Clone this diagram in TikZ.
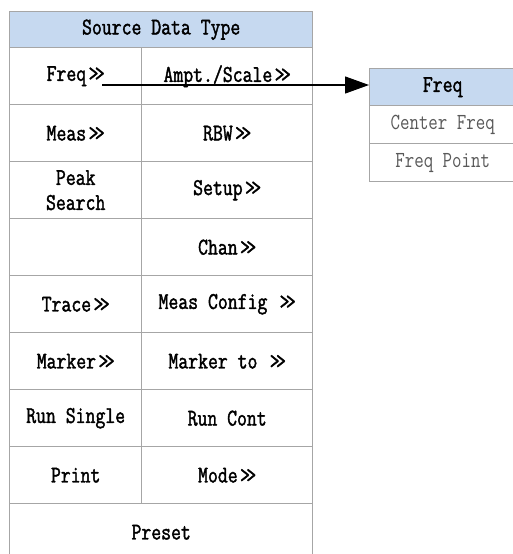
\documentclass[tikz,border=0pt]{standalone}
\usepackage{fontspec}
\newfontfamily\cellfont[FakeStretch=0.8, FakeBold=1.6]{Latin Modern Mono}
\newfontfamily\subfont[FakeStretch=0.8]{Latin Modern Mono}
\usetikzlibrary{arrows.meta}
\definecolor{hdr}{HTML}{C6D9F0}
\definecolor{grid}{HTML}{A6A6A6}
\definecolor{subtxt}{HTML}{595959}
\newcommand{\dgt}{\kern0.1em{>}\kern-0.15em{>}}
\tikzset{
  cell/.style={draw=grid, line width=1.4pt, fill=white, inner sep=0pt, anchor=north west,
    font=\cellfont\fontsize{24}{25}\selectfont, align=center},
  hcell/.style={cell, fill=hdr},
  scell/.style={cell, font=\subfont\fontsize{23}{25}\selectfont, text=subtxt},
}
\begin{document}
\begin{tikzpicture}[x=1pt,y=-1pt]
\useasboundingbox (0,0) rectangle (513,554);
\fill[white] (0,0) rectangle (513,554);
% main table
\node[hcell, minimum width=303pt, minimum height=36pt] (hd) at (9,11) {Source Data Type};
\node[cell, minimum width=132pt, minimum height=57pt] (l1) at (9,47) {Freq\dgt};
\node[cell, minimum width=171pt, minimum height=57pt] (r1) at (141,47) {Ampt./Scale\dgt};
\node[cell, minimum width=132pt, minimum height=57pt] (l2) at (9,104) {Meas\dgt};
\node[cell, minimum width=171pt, minimum height=57pt] (r2) at (141,104) {RBW\dgt};
\node[cell, minimum width=132pt, minimum height=57pt] (l3) at (9,161) {Peak\\Search};
\node[cell, minimum width=171pt, minimum height=57pt] (r3) at (141,161) {Setup\dgt};
\node[cell, minimum width=132pt, minimum height=57pt] (l4) at (9,218) {};
\node[cell, minimum width=171pt, minimum height=57pt] (r4) at (141,218) {Chan\dgt};
\node[cell, minimum width=132pt, minimum height=57pt] (l5) at (9,275) {Trace\dgt};
\node[cell, minimum width=171pt, minimum height=57pt] (r5) at (141,275) {Meas Config \dgt};
\node[cell, minimum width=132pt, minimum height=57pt] (l6) at (9,332) {Marker\dgt};
\node[cell, minimum width=171pt, minimum height=57pt] (r6) at (141,332) {Marker to \dgt};
\node[cell, minimum width=132pt, minimum height=57pt] (l7) at (9,389) {Run Single};
\node[cell, minimum width=171pt, minimum height=57pt] (r7) at (141,389) {Run Cont};
\node[cell, minimum width=132pt, minimum height=57pt] (l8) at (9,446) {Print};
\node[cell, minimum width=171pt, minimum height=57pt] (r8) at (141,446) {Mode\dgt};
\node[cell, minimum width=303pt, minimum height=57pt] (ps) at (9,503) {Preset};
% side box
\node[hcell, minimum width=146pt, minimum height=37pt] (fh) at (369,68) {Freq};
\node[scell, minimum width=146pt, minimum height=38pt] (f1) at (369,105) {Center Freq};
\node[scell, minimum width=146pt, minimum height=38pt] (f2) at (369,143) {Freq Point};
% connector
\coordinate (st) at (102,85);
\draw[line width=1.3pt, -{Triangle[length=24pt,width=17pt]}] (st) -- (fh.west |- st);
\end{tikzpicture}
\end{document}
